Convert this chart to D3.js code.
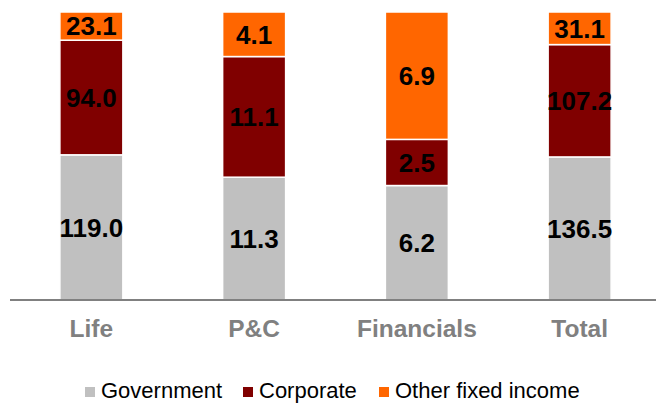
<!DOCTYPE html>
<html>
<head>
<meta charset="utf-8">
<script src="https://cdn.jsdelivr.net/npm/d3@7"></script>
<style>
  body { margin: 0; background: #fff; }
  svg { display: block; font-family: "Liberation Sans", Arial, sans-serif; }
</style>
</head>
<body>
<svg id="chart" width="656" height="404"></svg>
<script>
const categories = ['Life', 'P&C', 'Financials', 'Total'];
const seriesNames = ['Government', 'Corporate', 'Other fixed income'];
const government = [119.0, 11.3, 6.2, 136.5];
const corporate = [94.0, 11.1, 2.5, 107.2];
const otherFixed = [23.1, 4.1, 6.9, 31.1];
const colors = ['#c0c0c0', '#800000', '#ff6600'];

const plotTop = 12, plotBottom = 300;

const rows = categories.map((c, i) => ({
  cat: c,
  Government: government[i],
  Corporate: corporate[i],
  'Other fixed income': otherFixed[i]
}));

const stack = d3.stack()
  .keys(seriesNames)
  .offset(d3.stackOffsetExpand);
const series = stack(rows);

const x = d3.scaleBand()
  .domain(categories)
  .range([10, 661])
  .paddingInner(0.613)
  .paddingOuter(0.3065);

const y = d3.scaleLinear()
  .domain([0, 1])
  .range([plotBottom, plotTop]);

const color = d3.scaleOrdinal().domain(seriesNames).range(colors);

const svg = d3.select('#chart');

const groups = svg.selectAll('g.series')
  .data(series)
  .enter()
  .append('g')
  .attr('class', 'series')
  .attr('fill', d => color(d.key));

groups.selectAll('rect')
  .data(d => d.map(p => ({ p, key: d.key })))
  .enter()
  .append('rect')
  .attr('x', d => x(d.p.data.cat))
  .attr('width', x.bandwidth())
  .attr('y', d => y(d.p[1]))
  .attr('height', d => y(d.p[0]) - y(d.p[1]))
  .attr('stroke', '#fff')
  .attr('stroke-width', 1.5);

groups.selectAll('text')
  .data(d => d.map(p => ({ p, key: d.key })))
  .enter()
  .append('text')
  .attr('x', d => x(d.p.data.cat) + x.bandwidth() / 2)
  .attr('y', d => (y(d.p[0]) + y(d.p[1])) / 2)
  .attr('dy', '0.36em')
  .attr('text-anchor', 'middle')
  .attr('fill', '#000')
  .style('font-size', '26px')
  .style('font-weight', 'bold')
  .text(d => d3.format('.1f')(d.p.data[d.key]));

// baseline axis
const axis = svg.append('g')
  .attr('transform', `translate(0,${plotBottom})`)
  .call(d3.axisBottom(x).tickSize(0).tickPadding(20));
axis.select('.domain')
  .attr('d', `M10,0H656`)
  .attr('stroke', '#808080')
  .attr('stroke-width', 2);
axis.selectAll('.tick text')
  .attr('fill', '#808080')
  .style('font-size', '24.5px')
  .style('font-weight', 'bold')
  .style('font-family', '"Liberation Sans", Arial, sans-serif');

// legend
const legendX = [85, 243, 379];
const legend = svg.append('g');
seriesNames.forEach((name, i) => {
  legend.append('rect')
    .attr('x', legendX[i])
    .attr('y', 387)
    .attr('width', 10)
    .attr('height', 10)
    .attr('fill', color(name));
  legend.append('text')
    .attr('x', legendX[i] + 16)
    .attr('y', 398)
    .style('font-size', '22px')
    .attr('fill', '#000')
    .text(name);
});
</script>
</body>
</html>
